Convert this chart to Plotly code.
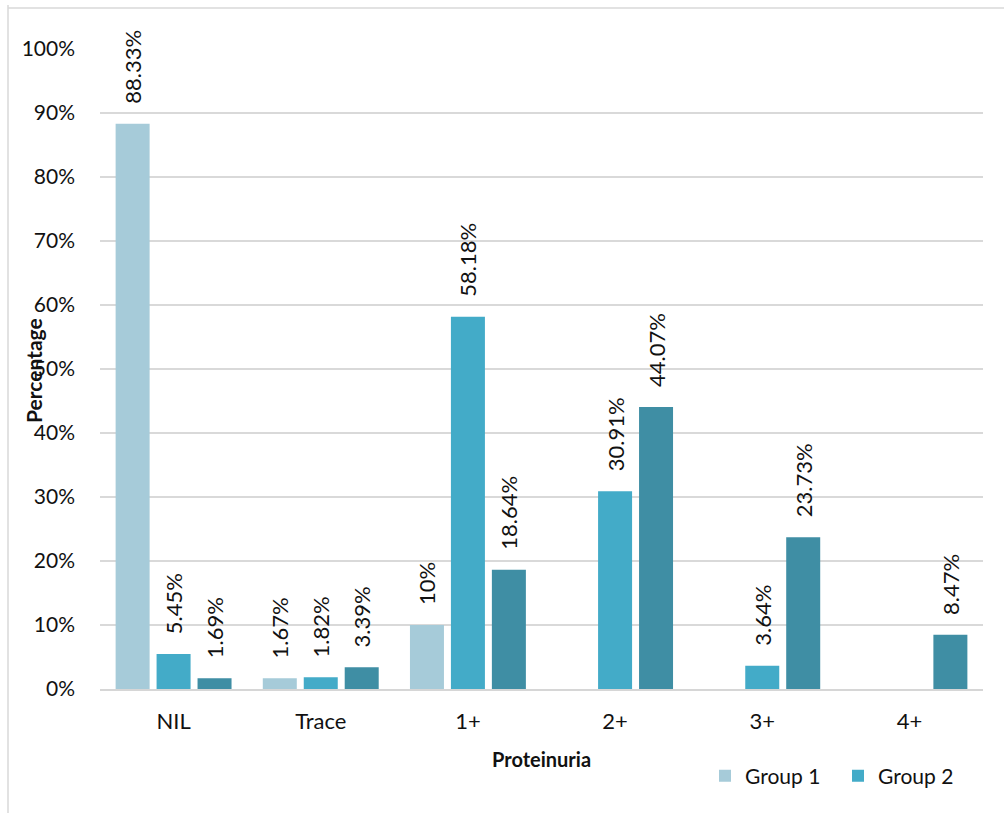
import plotly.graph_objects as go

# Proteinuria grade distribution per group (percent of patients)
categories = ["NIL", "Trace", "1+", "2+", "3+", "4+"]
group1 = [88.33, 1.67, 10, 0, 0, 0]
group2 = [5.45, 1.82, 58.18, 30.91, 3.64, 0]
group3 = [1.69, 3.39, 18.64, 44.07, 23.73, 8.47]
series_names = ["Group 1", "Group 2", "Group 3"]
series_colors = ["#a6cbd9", "#43abc8", "#3f8ea4"]

FONT = "Lato"
W, H = 1004, 813
L, R, T, B = 100, 21, 49, 124


def fmt(v):
    if v == 0:
        return ""
    s = f"{v:.2f}".rstrip("0").rstrip(".")
    return "\u00a0\u00a0\u00a0" + s + "%"


fig = go.Figure()
for name, vals, col in zip(series_names, [group1, group2, group3], series_colors):
    fig.add_trace(go.Bar(
        x=categories, y=vals, name=name,
        marker=dict(color=col, line=dict(width=0)),
        text=[fmt(v) for v in vals],
        textposition="outside", textangle=-90,
        constraintext="none", cliponaxis=False,
        outsidetextfont=dict(family=FONT, size=22, color="#111111"),
        showlegend=(name != "Group 3"),
        hoverinfo="x+y+name",
    ))

pw = W - L - R
ph = H - T - B


def px_x(x):
    return (x - L) / pw


def px_y(y):
    return (H - B - y) / ph


fig.update_layout(
    width=W, height=H,
    margin=dict(l=L, r=R, t=T, b=B, autoexpand=False),
    paper_bgcolor="white", plot_bgcolor="white",
    barmode="group", bargap=0.165, bargroupgap=0.17,
    font=dict(family=FONT, size=21, color="#111111"),
    xaxis=dict(
        showgrid=False, showline=True, linecolor="#d6d6d6", linewidth=2,
        ticks="", tickfont=dict(family=FONT, size=22, color="#111111"),
        ticklabelstandoff=12,
    ),
    yaxis=dict(
        range=[0, 100], dtick=10, ticksuffix="%",
        showgrid=True, gridcolor="#d9d9d9", gridwidth=1.5,
        zeroline=False, showline=False, ticks="",
        tickfont=dict(family=FONT, size=21, color="#111111"),
        ticklabelstandoff=24,
    ),
    legend=dict(
        orientation="h", x=px_x(705), xanchor="left",
        y=px_y(776), yanchor="middle",
        font=dict(family=FONT, size=21, color="#111111"),
        bgcolor="rgba(0,0,0,0)", itemwidth=30, tracegroupgap=0,
        itemsizing="constant", entrywidth=88, entrywidthmode="pixels",
    ),
    annotations=[
        dict(text="<b>Proteinuria</b>", xref="paper", yref="paper",
             x=px_x(541), y=px_y(759), xanchor="center", yanchor="middle",
             showarrow=False, font=dict(family=FONT, size=20, color="#111111")),
        dict(text="<b>Percentage</b>", xref="paper", yref="paper",
             x=px_x(33), y=px_y(371), xanchor="center", yanchor="middle",
             textangle=-90, showarrow=False,
             font=dict(family=FONT, size=21, color="#111111")),
    ],
    shapes=[
        dict(type="line", xref="paper", yref="paper",
             x0=px_x(8), x1=px_x(8), y0=px_y(5), y1=px_y(813),
             line=dict(color="#d9d9d9", width=1.5)),
        dict(type="line", xref="paper", yref="paper",
             x0=px_x(8), x1=px_x(1004), y0=px_y(8), y1=px_y(8),
             line=dict(color="#d9d9d9", width=1.5)),
    ],
)

fig.write_html("out.html")
